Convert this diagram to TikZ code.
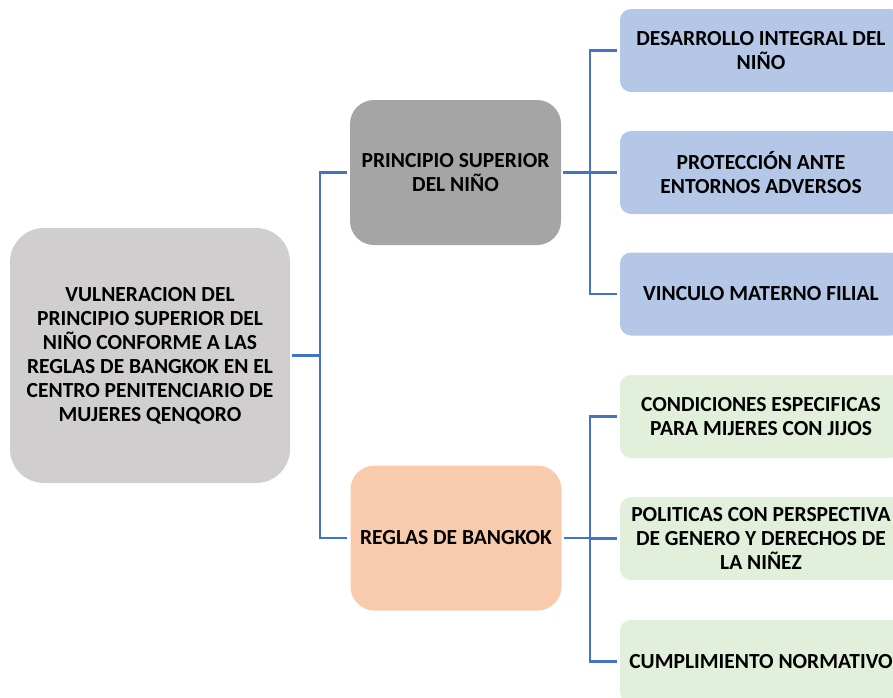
\documentclass[tikz,border=0pt]{standalone}
\usepackage{fontspec}
\setmainfont{Carlito}
\definecolor{rootgray}{HTML}{D0CECE}
\definecolor{midgray}{HTML}{A5A5A5}
\definecolor{peach}{HTML}{F8CBAD}
\definecolor{lblue}{HTML}{B4C7E7}
\definecolor{lgreen}{HTML}{E2EFDA}
\definecolor{linkblue}{HTML}{4472C4}
\begin{document}
\begin{tikzpicture}[x=1pt,y=-1pt,
  box/.style={rectangle, align=center, inner sep=0pt,
    font=\bfseries\fontsize{21.5}{24}\selectfont, text=black},
  rootbox/.style={box, fill=rootgray, rounded corners=34pt, minimum width=280pt, minimum height=255pt},
  midbox/.style={box, rounded corners=24pt, minimum width=211pt, minimum height=145pt},
  leafbox/.style={box, rounded corners=11pt, minimum width=282pt, minimum height=83pt},
  link/.style={draw=linkblue, line width=2.5pt}]
\useasboundingbox (0,0) rectangle (893,697);
\clip (0,0) rectangle (893,697);
\node[rootbox] (root) at (150,355.5) {VULNERACION DEL\\PRINCIPIO SUPERIOR DEL\\NIÑO CONFORME A LAS\\REGLAS DE BANGKOK EN EL\\CENTRO PENITENCIARIO DE\\MUJERES QENQORO};
\node[midbox, fill=midgray] (ps) at (455.5,172.5) {PRINCIPIO SUPERIOR\\DEL NIÑO};
\node[midbox, fill=peach] (rb) at (456,538) {REGLAS DE BANGKOK};
\node[leafbox, fill=lblue] (b1) at (761,50.5) {DESARROLLO INTEGRAL DEL\\NIÑO};
\node[leafbox, fill=lblue] (b2) at (761,172.5) {PROTECCIÓN ANTE\\ENTORNOS ADVERSOS};
\node[leafbox, fill=lblue] (b3) at (761,294) {VINCULO MATERNO FILIAL};
\node[leafbox, fill=lgreen] (g1) at (761,416.5) {CONDICIONES ESPECIFICAS\\PARA MIJERES CON JIJOS};
\node[leafbox, fill=lgreen] (g2) at (761,538.5) {POLITICAS CON PERSPECTIVA\\DE GENERO Y DERECHOS DE\\LA NIÑEZ};
\node[leafbox, fill=lgreen] (g3) at (761,661.5) {CUMPLIMIENTO NORMATIVO};
\coordinate (j1) at (320,355.5);
\coordinate (j2) at (590,172.5);
\coordinate (j3) at (590,538);
\draw[link, shorten <=2pt] (root.east) -- (j1);
\draw[link, shorten >=3pt] (j1) |- (ps.west);
\draw[link, shorten >=3pt] (j1) |- (rb.west);
\draw[link, shorten <=2pt] (ps.east) -- (j2);
\draw[link, shorten >=3pt] (j2) |- (b1.west);
\draw[link, shorten >=3pt] (j2) -- (b2.west);
\draw[link, shorten >=3pt] (j2) |- (b3.west);
\draw[link, shorten <=2pt] (rb.east) -- (j3);
\draw[link, shorten >=3pt] (j3) |- (g1.west);
\draw[link, shorten >=3pt] (j3) |- (g2.west);
\draw[link, shorten >=3pt] (j3) |- (g3.west);
\end{tikzpicture}
\end{document}
